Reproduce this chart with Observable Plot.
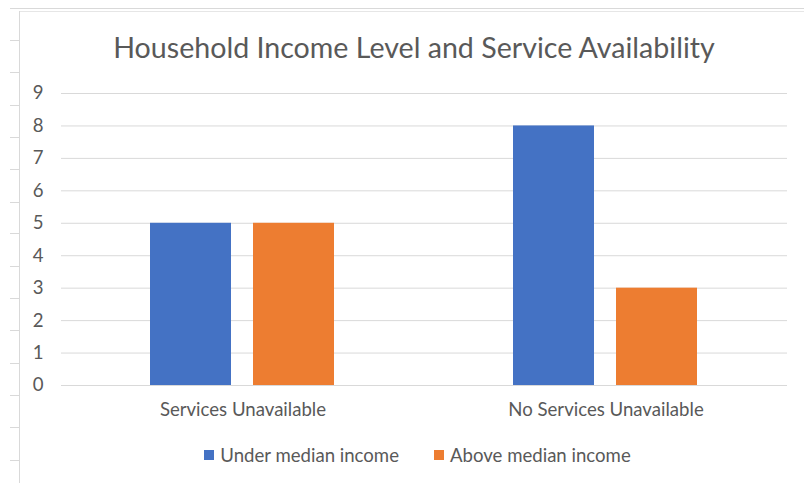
<!DOCTYPE html>
<html>
<head>
<meta charset="utf-8">
<script src="https://cdn.jsdelivr.net/npm/d3@7"></script>
<script src="https://cdn.jsdelivr.net/npm/@observablehq/plot@0.6"></script>
<style>
  html, body { margin: 0; padding: 0; background: #fff; }
  #frame { position: relative; width: 804px; height: 483px; overflow: hidden; background: #fff; font-family: Lato, "Open Sans", sans-serif; color: #595959; }
  .deco { position: absolute; background: #d9d9d9; }
  #title { position: absolute; left: 0; width: 804px; top: 30px; text-align: center; font-size: 28.6px; line-height: 34px; color: #595959; white-space: nowrap; padding-left: 24px; box-sizing: border-box; }
  #legend { position: absolute; left: 0; width: 804px; top: 444px; display: flex; justify-content: center; gap: 35px; font-size: 18.6px; line-height: 22px; color: #595959; padding-left: 31px; box-sizing: border-box; }
  .item { display: flex; align-items: center; white-space: nowrap; }
  .swatch { width: 10px; height: 10px; margin-right: 6px; display: inline-block; }
  #chart { position: absolute; left: 0; top: 0; }
</style>
</head>
<body>
<div id="frame">
  <div class="deco" style="left:10px; top:8px; width:794px; height:1px;"></div>
  <div class="deco" style="left:19px; top:11px; width:785px; height:1px; background:#e6e6e6"></div>
  <div class="deco" style="left:19px; top:11px; width:1px; height:472px;"></div>
  <div id="rows"></div>
  <div id="chart"></div>
  <div id="title"></div>
  <div id="legend"></div>
</div>
<script>
const chartTitle = "Household Income Level and Service Availability";
const categories = ["Services Unavailable", "No Services Unavailable"];
const seriesNames = ["Under median income", "Above median income"];
const underMedian = [5, 8];
const aboveMedian = [5, 3];
const yTicks = [0, 1, 2, 3, 4, 5, 6, 7, 8, 9];
const seriesColors = ["#4472C4", "#ED7D31"];

// spreadsheet row separators at the left edge (decoration)
const rowLines = [40, 72, 105, 137, 169, 202, 233, 266, 298, 330, 363, 395, 427, 460];
const rowsDiv = document.getElementById("rows");
for (const y of rowLines) {
  const d = document.createElement("div");
  d.className = "deco";
  d.style.cssText = `left:10px; top:${y}px; width:9px; height:1px;`;
  rowsDiv.appendChild(d);
}

const data = categories.flatMap((c, i) => [
  {category: c, series: seriesNames[0], value: underMedian[i]},
  {category: c, series: seriesNames[1], value: aboveMedian[i]}
]);

const chart = Plot.plot({
  width: 804,
  height: 483,
  marginLeft: 60,
  marginRight: 17,
  marginTop: 93,
  marginBottom: 98,
  style: {fontFamily: "Lato, 'Open Sans', sans-serif", fontSize: "18.6px", color: "#595959", background: "transparent"},
  fx: {domain: categories, padding: 0, axis: "bottom", label: null, tickSize: 0, tickPadding: 17},
  x: {domain: seriesNames, paddingInner: 0.2115, paddingOuter: 0.853, axis: null},
  y: {domain: [0, 9], ticks: yTicks, tickSize: 0, tickPadding: 18, label: null},
  color: {domain: seriesNames, range: seriesColors},
  marks: [
    Plot.ruleY(yTicks, {stroke: "#d9d9d9", strokeWidth: 1}),
    Plot.barY(data, {fx: "category", x: "series", y: "value", fill: "series"})
  ]
});
document.getElementById("chart").appendChild(chart);

document.getElementById("title").textContent = chartTitle;
const legend = document.getElementById("legend");
seriesNames.forEach((s, i) => {
  const item = document.createElement("div");
  item.className = "item";
  const sw = document.createElement("span");
  sw.className = "swatch";
  sw.style.background = seriesColors[i];
  item.appendChild(sw);
  item.appendChild(document.createTextNode(s));
  legend.appendChild(item);
});
</script>
</body>
</html>
